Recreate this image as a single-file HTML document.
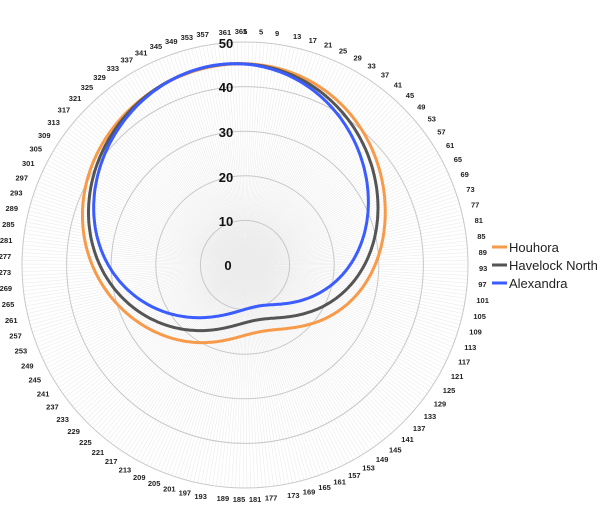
<!DOCTYPE html>
<html><head><meta charset="utf-8"><style>
html,body{margin:0;padding:0;background:#fff;}
svg{display:block;font-family:"Liberation Sans",sans-serif;}
</style></head><body>
<svg id="s" width="600" height="531" viewBox="0 0 600 531" xmlns="http://www.w3.org/2000/svg">
<defs><radialGradient id="g"><stop offset="0" stop-color="#ececec"/><stop offset="1" stop-color="#fff" stop-opacity="0"/></radialGradient></defs>
<circle cx="245" cy="265" r="30" fill="url(#g)"/>
<g id="spokes" stroke="#ececec" stroke-width="0.6"></g>
<g fill="none" stroke="#c8c8c8" stroke-width="1">
<circle cx="245" cy="265" r="44.6"/><circle cx="245" cy="265" r="89.2"/><circle cx="245" cy="265" r="133.8"/><circle cx="245" cy="265" r="178.4"/><circle cx="245" cy="265" r="223"/>
</g>
<g font-size="13" font-weight="bold" text-anchor="middle" fill="#111">
<text x="228" y="270">0</text><text x="226" y="226">10</text><text x="226" y="182">20</text><text x="226" y="137">30</text><text x="226" y="92">40</text><text x="226" y="48">50</text>
</g>
<g id="labels" font-size="7.5" font-weight="bold" fill="#222"></g>
<g id="series" fill="none" stroke-width="3" stroke-linejoin="round"></g>
<g font-size="13" fill="#222">
<line x1="492" y1="247" x2="507" y2="247" stroke="#f79a4a" stroke-width="3"/><text x="509" y="252">Houhora</text>
<line x1="492" y1="265" x2="507" y2="265" stroke="#555" stroke-width="3"/><text x="509" y="270">Havelock North</text>
<line x1="492" y1="283" x2="507" y2="283" stroke="#3b5cff" stroke-width="3"/><text x="509" y="288">Alexandra</text>
</g>
</svg>
<script>
var NS="http://www.w3.org/2000/svg",cx=245,cy=265;
var sp=document.getElementById("spokes"),lb=document.getElementById("labels");
for(var d=1;d<=365;d++){var a=(d-1)/365*2*Math.PI,s=Math.sin(a),c=-Math.cos(a);
var l=document.createElementNS(NS,"line");l.setAttribute("x1",cx);l.setAttribute("y1",cy);
l.setAttribute("x2",cx+223*s);l.setAttribute("y2",cy+223*c);sp.appendChild(l);
if((d-1)%4==0){var t=document.createElementNS(NS,"text"),r=234;
t.setAttribute("x",(cx+r*s).toFixed(1));t.setAttribute("y",(cy+r*c+3).toFixed(1));
t.setAttribute("text-anchor",Math.abs(s)<0.15?"middle":(s>0?"start":"end"));
t.textContent=d;lb.appendChild(t);}}
function fit(p){var N=4,M=2*N+1,A=[],b=[];for(var i=0;i<M;i++){A.push(new Array(M).fill(0));b.push(0);}
p.forEach(function(q){var dx=q[0]-cx,dy=q[1]-cy,th=Math.atan2(dx,-dy),r=Math.hypot(dx,dy),f=[1];
for(var k=1;k<=N;k++){f.push(Math.cos(k*th),Math.sin(k*th));}
for(var i=0;i<M;i++){b[i]+=f[i]*r;for(var j=0;j<M;j++)A[i][j]+=f[i]*f[j];}});
for(var i=0;i<M;i++)A[i][i]+=1e-3;
for(var i=0;i<M;i++){var pv=A[i][i];for(var j=i+1;j<M;j++){var m=A[j][i]/pv;for(var k=i;k<M;k++)A[j][k]-=m*A[i][k];b[j]-=m*b[i];}}
var x=new Array(M).fill(0);for(var i=M-1;i>=0;i--){var s=b[i];for(var j=i+1;j<M;j++)s-=A[i][j]*x[j];x[i]=s/A[i][i];}
var str="";for(var d=0;d<=365;d++){var th=d/365*2*Math.PI,r=x[0];for(var k=1;k<=N;k++)r+=x[2*k-1]*Math.cos(k*th)+x[2*k]*Math.sin(k*th);
str+=(d?"L":"M")+(cx+r*Math.sin(th)).toFixed(1)+","+(cy-r*Math.cos(th)).toFixed(1);}return str+"Z";}
var O=[[245,67],[290,72],[333,94],[370,142],[382,200],[384,230],[377,263],[357,297],[333,313],[300,326],[250,335],[207,342],[160,333],[133,320],[113,300],[97,273],[85,247],[83,213],[88,180],[100,150],[127,110],[167,80],[200,70]];
var K=[[245,67],[290,72],[329,97],[363,145],[377,200],[375,230],[370,257],[350,287],[327,303],[293,316],[250,322],[200,330],[160,323],[133,308],[113,287],[97,260],[90,230],[90,213],[92,180],[103,150],[130,110],[167,80],[200,70]];
var B=[[245,66],[290,71],[323,100],[357,150],[368,200],[365,230],[357,257],[333,283],[300,300],[267,306],[250,308],[233,312],[200,318],[167,313],[140,300],[117,277],[100,247],[95,213],[95,180],[107,150],[132,110],[170,80],[203,70]];
var g=document.getElementById("series");
[[O,"#f79a4a"],[K,"#555555"],[B,"#3b5cff"]].forEach(function(e){var p=document.createElementNS(NS,"path");
p.setAttribute("d",fit(e[0]));p.setAttribute("stroke",e[1]);g.appendChild(p);});
</script>
</body></html>
